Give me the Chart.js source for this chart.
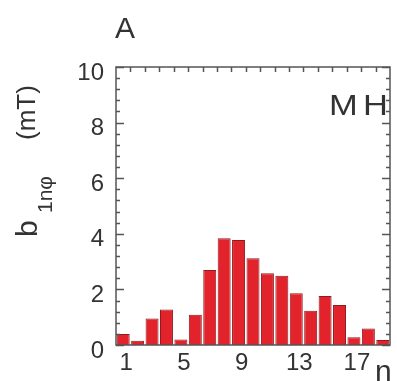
<!DOCTYPE html>
<html>
<head>
<meta charset="utf-8">
<script src="https://cdn.jsdelivr.net/npm/chart.js@4"></script>
<style>
  body { margin: 0; background: #fff; }
  canvas { display: block; }
</style>
</head>
<body>
<canvas id="chart" width="397" height="381"></canvas>
<script>
const categories = ['1', '2', '3', '4', '5', '6', '7', '8', '9', '10', '11', '12', '13', '14', '15', '16', '17', '18', '19'];
const values = [0.4, 0.15, 0.95, 1.28, 0.2, 1.09, 2.7, 3.84, 3.78, 3.12, 2.58, 2.49, 1.86, 1.23, 1.76, 1.44, 0.28, 0.59, 0.18];
const xTickLabels = ['1', '5', '9', '13', '17'];
const yMin = 0, yMax = 10, yStep = 2, yMinorStep = 0.4;

const fontFamily = '"Liberation Sans", Arial, sans-serif';

// frame with inward ticks, drawn over the bars
const frame = {
    id: 'frame',
    afterDatasetsDraw(chart) {
        const { ctx, chartArea: a, scales: { x, y } } = chart;
        ctx.save();
        ctx.strokeStyle = '#555';
        ctx.lineWidth = 1.5;
        ctx.beginPath();
        for (let v = yMin; v <= yMax + 1e-9; v += yMinorStep) {
            const py = Math.round(y.getPixelForValue(v)) + 0.5;
            const major = Math.abs(v / yStep - Math.round(v / yStep)) < 1e-6;
            const len = major ? 8 : 4;
            ctx.moveTo(a.left, py); ctx.lineTo(a.left + len, py);
            ctx.moveTo(a.right, py); ctx.lineTo(a.right - len, py);
        }
        for (let i = 0; i < categories.length - 1; i++) {
            const px = Math.round((x.getPixelForValue(i) + x.getPixelForValue(i + 1)) / 2) + 0.5;
            ctx.moveTo(px, a.top); ctx.lineTo(px, a.top + 5);
        }
        ctx.stroke();
        ctx.strokeRect(a.left, a.top, a.right - a.left, a.bottom - a.top);
        ctx.restore();
    },
    afterDraw(chart) {
        const { ctx, chartArea: a } = chart;
        ctx.save();
        ctx.fillStyle = '#333';
        ctx.textBaseline = 'alphabetic';
        ctx.textAlign = 'left';

        ctx.font = '30px ' + fontFamily;
        ctx.fillText('A', a.left - 1, 38);

        // panel tag, a little wider than the font
        ctx.save();
        ctx.translate(a.right - 61, a.top + 48);
        ctx.scale(1.15, 1);
        ctx.fillText('M', 0, 0);
        ctx.fillText('H', 29.6, 0);
        ctx.restore();

        ctx.fillText('n', a.right - 15, 381);

        // rotated y-axis label: b_{1nφ} (mT)
        ctx.translate(37, 237);
        ctx.rotate(-Math.PI / 2);
        ctx.font = '30px ' + fontFamily;
        ctx.fillText('b', 0, 0);
        ctx.font = '21px ' + fontFamily;
        ctx.fillText('1nφ', 24, 15);
        ctx.font = '26px ' + fontFamily;
        ctx.fillText('(mT)', 97, -2);
        ctx.restore();
    }
};

new Chart(document.getElementById('chart').getContext('2d'), {
    type: 'bar',
    data: {
        labels: categories,
        datasets: [{
            data: values,
            backgroundColor: '#e2232b',
            borderColor: '#8e1b1f',
            borderWidth: 1,
            barPercentage: 0.9,
            categoryPercentage: 1.0,
        }],
    },
    options: {
        responsive: false,
        animation: false,
        layout: { padding: { top: 67, right: 7, left: 0, bottom: 0 } },
        plugins: { legend: { display: false }, tooltip: { enabled: false } },
        scales: {
            x: {
                grid: { display: false },
                border: { display: false },
                ticks: {
                    autoSkip: false,
                    maxRotation: 0,
                    color: '#333',
                    padding: -4,
                    labelOffset: 3,
                    font: { family: fontFamily, size: 24 },
                    callback: (val, i) => xTickLabels.includes(categories[i]) ? categories[i] : '',
                },
                afterFit: s => { s.height = 36; },
            },
            y: {
                min: yMin,
                max: yMax,
                grid: { display: false },
                border: { display: false },
                ticks: {
                    stepSize: yStep,
                    color: '#333',
                    padding: 4,
                    labelOffset: 6,
                    font: { family: fontFamily, size: 24 },
                },
                afterFit: s => { s.width = 116; },
            },
        },
    },
    plugins: [frame],
});
</script>
</body>
</html>
